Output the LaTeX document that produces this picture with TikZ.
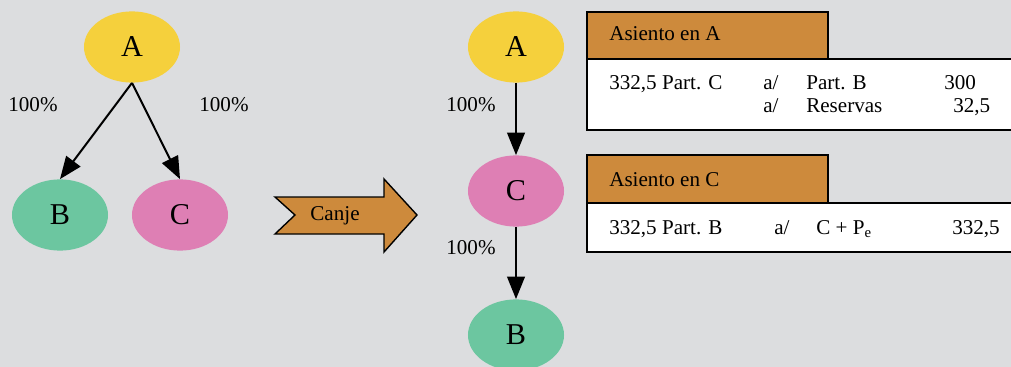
\documentclass[tikz,border=0pt]{standalone}
\usepackage{fontspec}
\setmainfont{Liberation Serif}
\usetikzlibrary{arrows.meta,shapes.geometric}
\definecolor{fondo}{HTML}{DCDDDF}
\definecolor{amarillo}{HTML}{F5D03C}
\definecolor{verde}{HTML}{6CC6A0}
\definecolor{rosa}{HTML}{DE7FB4}
\definecolor{naranja}{HTML}{CD8A3C}

\begin{document}
\begin{tikzpicture}[x=0.025cm,y=-0.025cm]

\tikzset{soc/.style={ellipse,minimum width=2.4cm,minimum height=1.78cm,inner sep=0pt,
                     font=\fontsize{21.5}{24}\selectfont}}
\tikzset{pct/.style={inner sep=0pt,font=\fontsize{15}{18}\selectfont}}
\tikzset{txt/.style={anchor=base west,inner sep=0pt,font=\fontsize{15}{18}\selectfont}}
\tikzset{flecha/.style={-{Triangle[length=0.56cm,width=0.44cm]},line width=0.05cm}}
\tikzset{caja/.style={line width=0.05cm}}

\useasboundingbox (0,0) rectangle (1011,367);
\clip (0,0) rectangle (1011,367);
\fill[fondo] (0,0) rectangle (1011,367);

% antes del canje
\node[soc,fill=amarillo] (A1) at (132,47)  {A};
\node[soc,fill=verde]    (B1) at (60,215)  {B};
\node[soc,fill=rosa]     (C1) at (180,215) {C};
\draw[flecha] (A1.south) -- (B1.north);
\draw[flecha] (A1.south) -- (C1.north);
\node[pct] (pAB) at (33,105)  {100\%};
\node[pct] (pAC) at (224,105) {100\%};

% canje
\filldraw[fill=naranja,line width=0.035cm]
  (275,197) -- (384,197) -- (384,179) -- (417,215) -- (384,252)
  -- (384,234) -- (275,234) -- (295,215) -- cycle;
\node[pct] (canje) at (335,216) {Canje};

% despues del canje
\node[soc,fill=amarillo] (A2) at (516,47)  {A};
\node[soc,fill=rosa]     (C2) at (516,191) {C};
\node[soc,fill=verde]    (B2) at (516,335) {B};
\draw[flecha] (A2) -- (C2);
\draw[flecha] (C2) -- (B2);
\node[pct] (pAC2) at (471,105) {100\%};
\node[pct] (pCB2) at (471,248) {100\%};

% asiento en A
\filldraw[fill=white,caja] (587,59) rectangle (1020,130);
\filldraw[fill=naranja,caja] (587,12) rectangle (828,59);
\node[txt] (tA)  at (609,41)  {Asiento en A};
\node[txt] (a1)  at (609,90)  {332,5 Part. C};
\node[txt] (a2)  at (763,90)  {a/};
\node[txt] (a3)  at (806,90)  {Part. B};
\node[txt] (a4)  at (944,90)  {300};
\node[txt] (a5)  at (763,113) {a/};
\node[txt] (a6)  at (806,113) {Reservas};
\node[txt] (a7)  at (953,113) {32,5};

% asiento en C
\filldraw[fill=white,caja] (587,203) rectangle (1020,252);
\filldraw[fill=naranja,caja] (587,155) rectangle (828,203);
\node[txt] (tC)  at (609,186) {Asiento en C};
\node[txt] (c1)  at (609,234) {332,5 Part. B};
\node[txt] (c2)  at (774,234) {a/};
\node[txt] (c3)  at (816,234) {C + P\textsubscript{e}};
\node[txt] (c4)  at (952,234) {332,5};

\end{tikzpicture}
\end{document}
